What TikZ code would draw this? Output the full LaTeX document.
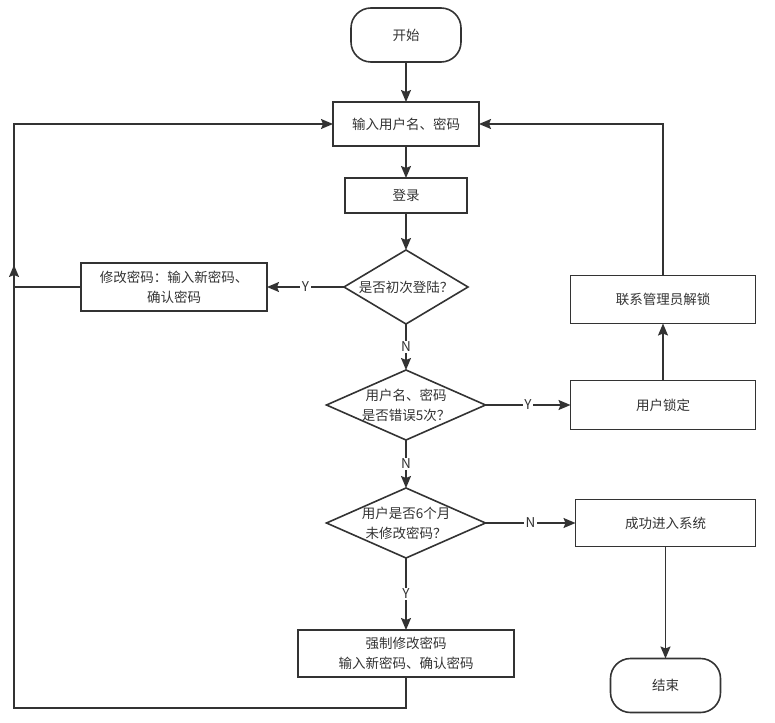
\documentclass[tikz,border=0pt]{standalone}
\usepackage{fontspec}
\setmainfont{Noto Sans CJK SC}
\usepackage{tikz}
\usetikzlibrary{arrows.meta, positioning, shapes.geometric}
\definecolor{fcLine}{HTML}{333333}
\definecolor{fcText}{HTML}{333333}

\begin{document}
\begin{tikzpicture}[
  x=1pt, y=-1pt,
  font=\fontsize{13.5}{20}\selectfont,
  text=fcText,
  terminal/.style={
    draw=fcLine,
    line width=1.6pt,
    outer sep=0pt,
    rounded corners=20pt,
    minimum width=110pt,
    minimum height=54pt
  },
  process/.style={
    draw=fcLine,
    line width=1.6pt,
    outer sep=0pt,
    align=center
  },
  decision/.style={
    diamond,
    draw=fcLine,
    line width=1.6pt,
    outer sep=0pt,
    align=center,
    inner sep=-3pt,
    shape aspect=2.27,
    minimum width=159pt,
    minimum height=70pt
  },
  yesno/.style={fill=white, inner sep=1.5pt, font=\fontsize{13.5}{16}\selectfont},
  arrow/.style={-{Stealth[length=12pt,width=10pt,inset=2pt]}, line width=1.6pt, draw=fcLine}
]
\useasboundingbox (0,0) rectangle (775,722);

\node[terminal] (start) at (406,35) {开始};
\node[process, minimum width=146pt, minimum height=44pt, below=40pt of start] (input) {输入用户名、密码};
\node[process, minimum width=122pt, minimum height=35pt, below=32pt of input] (login) {登录};
\node[decision, shape aspect=1.68, minimum width=124pt, minimum height=74pt, below=37pt of login] (first) {是否初次登陆？};
\node[process, minimum width=186pt, minimum height=48pt, left=77pt of first] (change) {修改密码：输入新密码、\\确认密码};
\node[decision, below=46pt of first] (wrong) {用户名、密码\\是否错误5次？};
\node[process, minimum width=185pt, minimum height=49pt, right=85pt of wrong] (lock) {用户锁定};
\node[process, minimum width=185pt, minimum height=48pt, above=57pt of lock] (admin) {联系管理员解锁};
\node[decision, below=48pt of wrong] (expire) {用户是否6个月\\未修改密码？};
\node[process, minimum width=180pt, minimum height=47pt, right=90pt of expire] (enter) {成功进入系统};
\node[terminal, below=112pt of enter] (finish) {结束};
\node[process, minimum width=216pt, minimum height=47pt, below=72pt of expire] (force) {强制修改密码\\输入新密码、确认密码};

% return rail on the left
\coordinate (rail) at (14,288);
\coordinate (railend) at (14,265);
\coordinate (railbot) at (14,708);

\draw[arrow] (start) -- (input);
\draw[arrow] (input) -- (login);
\draw[arrow] (login) -- (first);
\draw[arrow] (first) -- node[yesno] {Y} (change);
\draw[arrow] (first) -- node[yesno] {N} (wrong);
\draw[arrow] (wrong) -- node[yesno] {Y} (lock);
\draw[arrow] (lock) -- (admin);
\draw[arrow] (admin.north) |- (input.east);
\draw[arrow] (wrong) -- node[yesno] {N} (expire);
\draw[arrow] (expire) -- node[yesno] {N} (enter);
\draw[arrow] (enter) -- (finish);
\draw[arrow] (expire) -- node[yesno] {Y} (force);
\draw[arrow] (change.west) -- (change.west -| rail) |- (input.west);
\draw[arrow] (force.south) |- (railbot) -- (railend);
\end{tikzpicture}
\end{document}
